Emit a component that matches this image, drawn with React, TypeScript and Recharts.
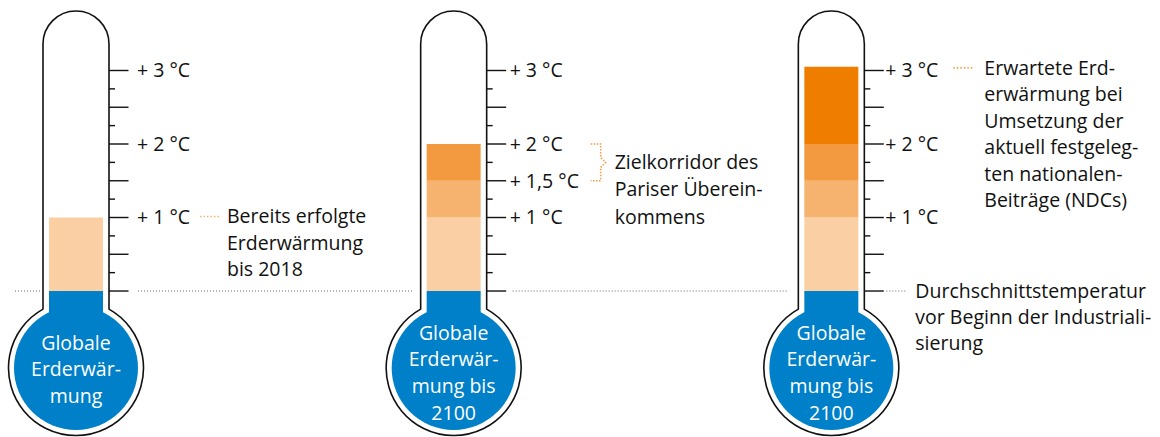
import React from "react";
import { BarChart, Bar, XAxis, YAxis } from "recharts";

// Thermometers (categories)
const thermometers = ["Bisher", "Paris", "NDCs"];

// Warming in °C, stacked in bands
const warmingUpTo1 = [1, 1, 1];
const warmingUpTo15 = [0, 0.5, 0.5];
const warmingUpTo2 = [0, 0.5, 0.5];
const warmingAbove2 = [0, 0, 1.05];

// Scale marks
const majorTicks = [0, 0.5, 1, 1.5, 2, 2.5, 3];
const minorTicks = [0.25, 0.75, 1.25, 1.75, 2.25, 2.75];
const tickLabels = [
  [1, 2, 3],
  [1, 1.5, 2, 3],
  [1, 2, 3],
];

// Texts
const bulbLines = [
  ["Globale", "Erderwär-", "mung"],
  ["Globale", "Erderwär-", "mung bis", "2100"],
  ["Globale", "Erderwär-", "mung bis", "2100"],
];
const noteLines = [
  ["Bereits erfolgte", "Erderwärmung", "bis 2018"],
  ["Zielkorridor des", "Pariser Überein-", "kommens"],
  [
    "Erwartete Erd-",
    "erwärmung bei",
    "Umsetzung der",
    "aktuell festgeleg-",
    "ten nationalen-",
    "Beiträge (NDCs)",
  ],
];
const baselineNote = ["Durchschnittstemperatur", "vor Beginn der Industriali-", "sierung"];

const data = thermometers.map((name, i) => ({
  name,
  to1: warmingUpTo1[i],
  to15: warmingUpTo15[i],
  to2: warmingUpTo2[i],
  above2: warmingAbove2[i],
}));

const BLUE = "#0080c9";
const INK = "#111";
const FONT = "'Open Sans', sans-serif";
const FS = 19.5;
const LH = 26.5;

// per-thermometer decoration offsets (px, relative to centre)
const deco = [
  { labelDx: 28, baseL: [-61, -36], baseR: [62, 337] },
  { labelDx: 23, baseL: null, baseR: [59, 333] },
  { labelDx: 21, baseL: null, baseR: [55, 74] },
];

const fmt = (v: number) => `+ ${String(v).replace(".", ",")} °C`;

function Thermometer(props: any) {
  const { x, y, width, height, index, payload } = props;
  const ppd = height / payload.to1;
  const y0 = y + height;
  const cx = x + width / 2;
  const yv = (v: number) => y0 - v * ppd;
  const half = 33;
  const topY = yv(3.81);
  const cy = y0 + 77;
  const R = 67.5;
  const jy = cy - Math.sqrt(R * R - half * half);
  const right = cx + half;
  const d = deco[index];

  const outline = `M${cx - half},${jy} L${cx - half},${topY + half} A${half},${half} 0 0 1 ${cx + half},${topY + half} L${cx + half},${jy} A${R},${R} 0 1 1 ${cx - half},${jy} Z`;

  const bulb = bulbLines[index];
  const bulbStart = bulb.length === 3 ? cy - 25 : cy - 35;

  const notes = noteLines[index];
  const mid = (yv(2) + yv(1.5)) / 2;

  return (
    <g fontFamily={FONT} fontSize={FS}>
      {d.baseL && (
        <line x1={cx + d.baseL[0]} x2={cx + d.baseL[1]} y1={y0} y2={y0} stroke="#666" strokeDasharray="1 2" />
      )}
      <line x1={cx + d.baseR[0]} x2={cx + d.baseR[1]} y1={y0} y2={y0} stroke="#666" strokeDasharray="1 2" />
      <path d={outline} fill="#fff" stroke={INK} strokeWidth={1.6} />
      <circle cx={cx} cy={cy} r={62} fill={BLUE} />
      <rect x={x} y={y0} width={width} height={cy - y0} fill={BLUE} />
      {majorTicks.map((t) => (
        <line key={"M" + t} x1={right} x2={right + 19.5} y1={yv(t)} y2={yv(t)} stroke={INK} strokeWidth={1.4} />
      ))}
      {minorTicks.map((t) => (
        <line key={"m" + t} x1={right} x2={right + 6} y1={yv(t)} y2={yv(t)} stroke={INK} strokeWidth={1.4} />
      ))}
      {tickLabels[index].map((t) => (
        <text key={"l" + t} x={cx + d.labelDx + half} y={yv(t) + 6.8} fill={INK}>
          {fmt(t)}
        </text>
      ))}
      {bulb.map((s, i) => (
        <text key={"b" + i} x={cx} y={bulbStart + i * 26.6 + 6.8} fill="#fff" textAnchor="middle">
          {s}
        </text>
      ))}
      {index === 0 && (
        <g>
          <line x1={right + 91} x2={right + 111} y1={yv(1) - 1} y2={yv(1) - 1} stroke="#f6b36f" strokeWidth={1.5} strokeDasharray="1.5 2" />
          {notes.map((s, i) => (
            <text key={i} x={right + 118} y={yv(1) - 1 + i * LH + 6.8} fill={INK}>
              {s}
            </text>
          ))}
        </g>
      )}
      {index === 1 && (
        <g>
          <path
            d={`M${right + 104},${yv(2)} H${right + 114} V${mid - 5} L${right + 119},${mid} L${right + 114},${mid + 5} V${yv(1.5)} H${right + 104}`}
            fill="none"
            stroke="#f39a40"
            strokeWidth={1.5}
            strokeDasharray="1.5 1.5"
          />
          {notes.map((s, i) => (
            <text key={i} x={right + 128} y={mid + i * 27.3 + 6.8} fill={INK}>
              {s}
            </text>
          ))}
        </g>
      )}
      {index === 2 && (
        <g>
          <line x1={right + 89} x2={right + 109} y1={yv(3.05) + 1} y2={yv(3.05) + 1} stroke="#ef7d00" strokeWidth={1.3} strokeDasharray="1.5 2" />
          {notes.map((s, i) => (
            <text key={i} x={right + 120} y={yv(3.05) + 1 + i * LH + 6.8} fill={INK}>
              {s}
            </text>
          ))}
          {baselineNote.map((s, i) => (
            <text key={"n" + i} x={right + 51} y={y0 + i * 26 + 6.8} fill={INK}>
              {s}
            </text>
          ))}
        </g>
      )}
      <rect x={x} y={y} width={width} height={height} fill={props.fill} />
    </g>
  );
}

export default function App() {
  return (
    <div style={{ position: "absolute", left: 0, top: 0, width: 1160, height: 437, background: "#fff" }}>
      <BarChart width={1160} height={437} data={data} margin={{ top: 0, right: 140, left: -113, bottom: 0 }} barSize={54}>
        <XAxis dataKey="name" hide />
        <YAxis hide type="number" domain={[-1.986, 3.959]} allowDataOverflow />
        <Bar dataKey="to1" stackId="t" fill="#f9cfa3" shape={Thermometer} isAnimationActive={false} />
        <Bar dataKey="to15" stackId="t" fill="#f6b36f" isAnimationActive={false} />
        <Bar dataKey="to2" stackId="t" fill="#f39a40" isAnimationActive={false} />
        <Bar dataKey="above2" stackId="t" fill="#ef7d00" isAnimationActive={false} />
      </BarChart>
    </div>
  );
}
